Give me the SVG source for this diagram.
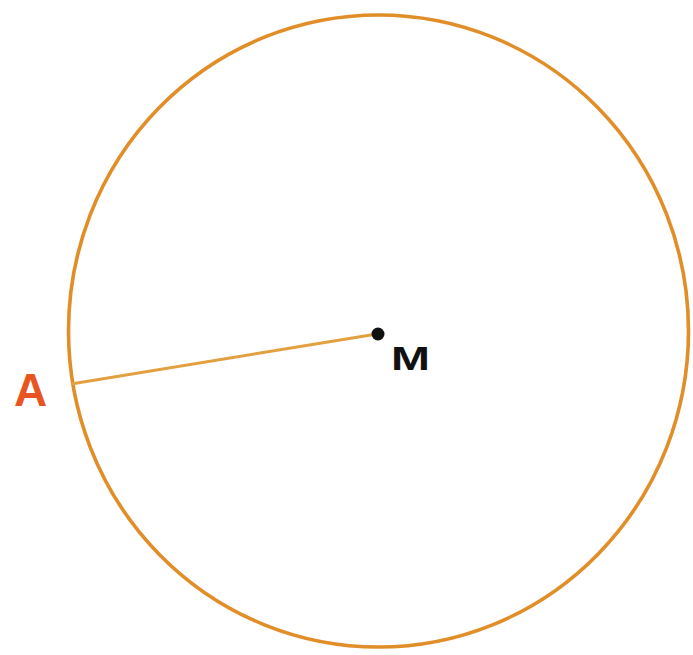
<svg xmlns="http://www.w3.org/2000/svg" width="693" height="655" viewBox="0 0 693 655">
<style>
.ring{fill:none;stroke:#e28e28;stroke-width:3.6}
.radius{stroke:#e3a040;stroke-width:3;fill:none}
.lbl{font-family:"Liberation Sans",Arial,sans-serif;font-weight:bold}
</style>
<rect width="693" height="655" fill="#ffffff"/>
<g id="circle"><ellipse class="ring" cx="378.5" cy="331" rx="310" ry="316"/></g>
<g id="connectors"><line class="radius" x1="71" y1="384" x2="377" y2="334"/></g>
<g id="M"><circle cx="378" cy="334" r="6.5" fill="#111"/><text class="lbl" x="391" y="370" font-size="33" fill="#111" textLength="39" lengthAdjust="spacingAndGlyphs">M</text></g>
<g id="A"><text class="lbl" x="14" y="406" font-size="46" fill="#e85522">A</text></g>
</svg>
